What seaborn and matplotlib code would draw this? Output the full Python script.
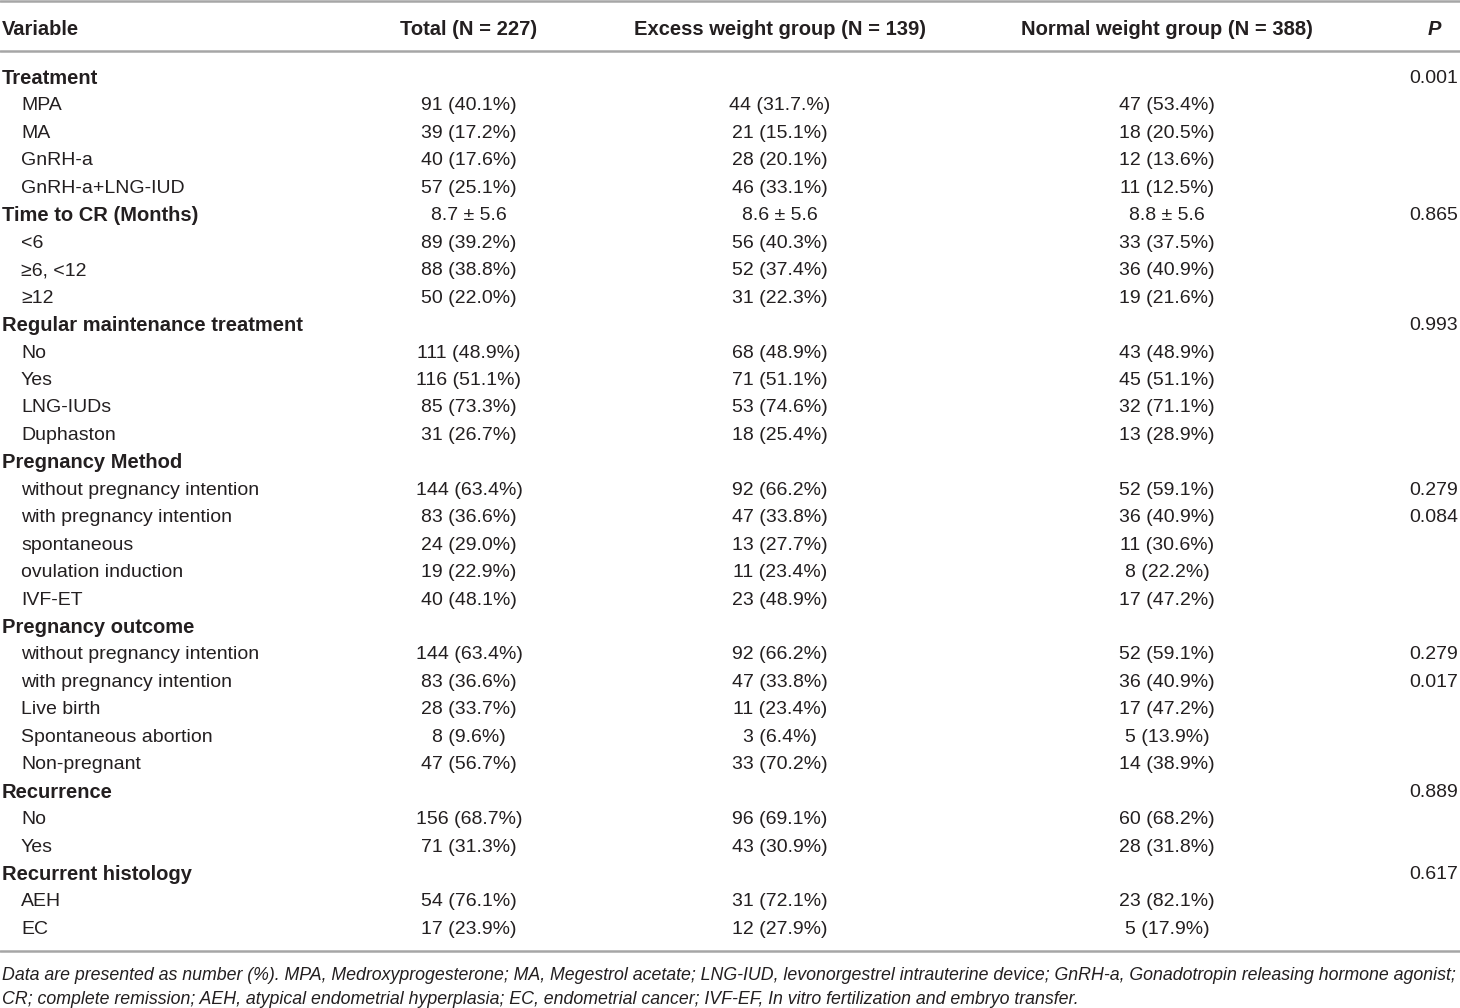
import numpy as np
import pandas as pd
import seaborn as sns
import matplotlib.pyplot as plt

sns.set_theme(style='white')
plt.rcParams['font.family'] = ['Liberation Sans', 'DejaVu Sans']

headers = ['Variable', 'Total (N = 227)', 'Excess weight group (N = 139)',
           'Normal weight group (N = 388)', 'P']

variables = ['Treatment', 'MPA', 'MA', 'GnRH-a', 'GnRH-a+LNG-IUD',
             'Time to CR (Months)', '<6', '≥6, <12', '≥12',
             'Regular maintenance treatment', 'No', 'Yes', 'LNG-IUDs', 'Duphaston',
             'Pregnancy Method', 'without pregnancy intention', 'with pregnancy intention',
             'spontaneous', 'ovulation induction', 'IVF-ET',
             'Pregnancy outcome', 'without pregnancy intention', 'with pregnancy intention',
             'Live birth', 'Spontaneous abortion', 'Non-pregnant',
             'Recurrence', 'No', 'Yes',
             'Recurrent histology', 'AEH', 'EC']

is_section = [1, 0, 0, 0, 0,
              1, 0, 0, 0,
              1, 0, 0, 0, 0,
              1, 0, 0, 0, 0, 0,
              1, 0, 0, 0, 0, 0,
              1, 0, 0,
              1, 0, 0]

total = ['', '91 (40.1%)', '39 (17.2%)', '40 (17.6%)', '57 (25.1%)',
         '8.7 ± 5.6', '89 (39.2%)', '88 (38.8%)', '50 (22.0%)',
         '', '111 (48.9%)', '116 (51.1%)', '85 (73.3%)', '31 (26.7%)',
         '', '144 (63.4%)', '83 (36.6%)', '24 (29.0%)', '19 (22.9%)', '40 (48.1%)',
         '', '144 (63.4%)', '83 (36.6%)', '28 (33.7%)', '8 (9.6%)', '47 (56.7%)',
         '', '156 (68.7%)', '71 (31.3%)',
         '', '54 (76.1%)', '17 (23.9%)']

excess = ['', '44 (31.7.%)', '21 (15.1%)', '28 (20.1%)', '46 (33.1%)',
          '8.6 ± 5.6', '56 (40.3%)', '52 (37.4%)', '31 (22.3%)',
          '', '68 (48.9%)', '71 (51.1%)', '53 (74.6%)', '18 (25.4%)',
          '', '92 (66.2%)', '47 (33.8%)', '13 (27.7%)', '11 (23.4%)', '23 (48.9%)',
          '', '92 (66.2%)', '47 (33.8%)', '11 (23.4%)', '3 (6.4%)', '33 (70.2%)',
          '', '96 (69.1%)', '43 (30.9%)',
          '', '31 (72.1%)', '12 (27.9%)']

normal = ['', '47 (53.4%)', '18 (20.5%)', '12 (13.6%)', '11 (12.5%)',
          '8.8 ± 5.6', '33 (37.5%)', '36 (40.9%)', '19 (21.6%)',
          '', '43 (48.9%)', '45 (51.1%)', '32 (71.1%)', '13 (28.9%)',
          '', '52 (59.1%)', '36 (40.9%)', '11 (30.6%)', '8 (22.2%)', '17 (47.2%)',
          '', '52 (59.1%)', '36 (40.9%)', '17 (47.2%)', '5 (13.9%)', '14 (38.9%)',
          '', '60 (68.2%)', '28 (31.8%)',
          '', '23 (82.1%)', '5 (17.9%)']

p_values = ['0.001', '', '', '', '',
            '0.865', '', '', '',
            '0.993', '', '', '', '',
            '', '0.279', '0.084', '', '', '',
            '', '0.279', '0.017', '', '', '',
            '0.889', '', '',
            '0.617', '', '']

footnote = ['Data are presented as number (%). MPA, Medroxyprogesterone; MA, Megestrol acetate; '
            'LNG-IUD, levonorgestrel intrauterine device; GnRH-a, Gonadotropin releasing hormone agonist;',
            'CR; complete remission; AEH, atypical endometrial hyperplasia; EC, endometrial cancer; '
            'IVF-EF, In vitro fertilization and embryo transfer.']

df = pd.DataFrame({'variable': variables, 'section': is_section, 'total': total,
                   'excess': excess, 'normal': normal, 'p': p_values})

W, H = 1460, 1008
fig = plt.figure(figsize=(W / 100, H / 100), dpi=100)
ax = fig.add_axes([0, 0, 1, 1])
ax.set_xlim(0, W)
ax.set_ylim(H, 0)
ax.axis('off')

ink = '#231f20'
rule = '#a6a6a6'
fs = 14
fs_bold = 14.5

# column anchors
x_var, x_sub = 2, 21
x_cols = [469, 780, 1167]
x_p = 1458
dy = 2.5  # nudge: va='center' sits a little high

# rules
for yy in [1, 51, 951]:
    ax.axhline(yy, color=rule, lw=1.8)

# header
y_head = 27 + dy
ax.text(x_var, y_head, headers[0], ha='left', va='center', fontsize=fs_bold,
        fontweight='bold', color=ink)
for xc, h in zip(x_cols, headers[1:4]):
    ax.text(xc, y_head, h, ha='center', va='center', fontsize=fs_bold,
            fontweight='bold', color=ink)
ax.text(1434, y_head, headers[4], ha='center', va='center', fontsize=fs_bold,
        fontweight='bold', fontstyle='italic', color=ink)

# body
y0, step = 76, 27.45
for i, row in df.iterrows():
    y = y0 + i * step + dy
    if row['section']:
        ax.text(x_var, y, row['variable'], ha='left', va='center', fontsize=fs_bold,
                fontweight='bold', color=ink)
    else:
        ax.text(x_sub, y, row['variable'], ha='left', va='center', fontsize=fs,
                color=ink)
    for xc, key in zip(x_cols, ['total', 'excess', 'normal']):
        if row[key]:
            ax.text(xc, y, row[key], ha='center', va='center', fontsize=fs, color=ink)
    if row['p']:
        ax.text(x_p, y, row['p'], ha='right', va='center', fontsize=fs, color=ink)

# footnote
for j, line in enumerate(footnote):
    ax.text(x_var, 975 + j * 24, line, ha='left', va='center', fontsize=12.8,
            fontstyle='italic', color=ink)

fig.savefig('out.png', dpi=100)
